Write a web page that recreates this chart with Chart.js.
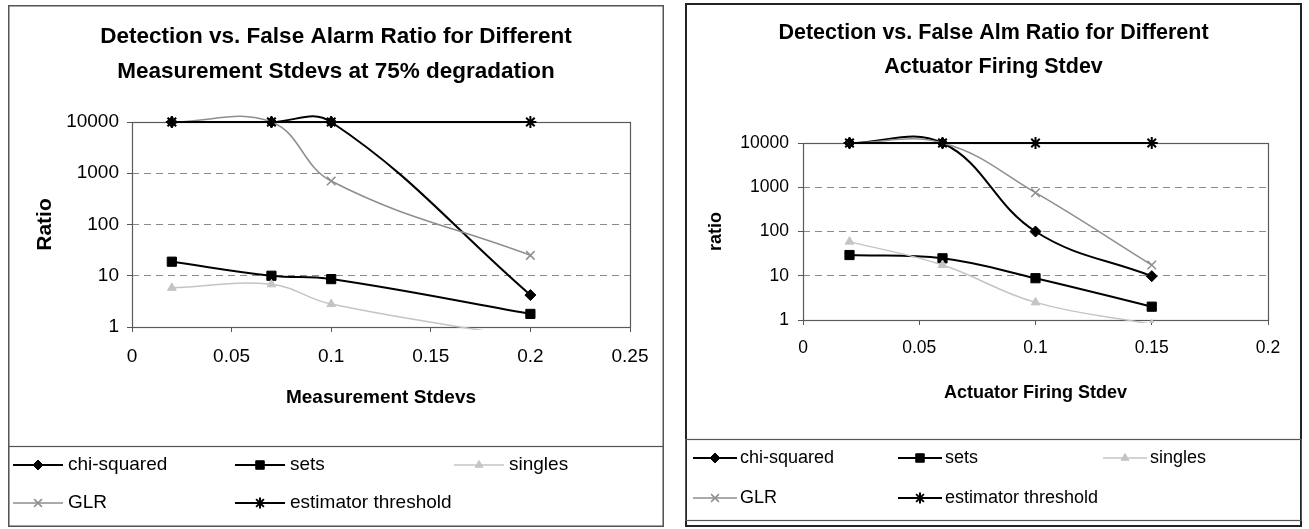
<!DOCTYPE html>
<html>
<head>
<meta charset="utf-8">
<script src="https://cdn.jsdelivr.net/npm/chart.js@4.4.1/dist/chart.umd.min.js"></script>
<style>
  html, body { margin: 0; padding: 0; background: #fff; width: 1309px; height: 529px; overflow: hidden; }
  .panel { position: absolute; }
  canvas { display: block; }
</style>
</head>
<body>
<div class="panel" style="left:8px; top:5px;"><canvas id="measChart" width="656" height="522"></canvas></div>
<div class="panel" style="left:685px; top:3px;"><canvas id="actChart" width="617" height="524"></canvas></div>
<script>
// Series shared by both panels
const seriesNames = ['chi-squared', 'sets', 'singles', 'GLR', 'estimator threshold'];
const ratioTicks = [1, 10, 100, 1000, 10000];

// Panel 1: measurement noise
const measStdevs     = [0.02, 0.07, 0.1, 0.2];
const measChiSquared = [10000, 10000, 10000, 4.2];
const measSets       = [18.8, 10, 8.6, 1.8];
const measSingles    = [5.8, 6.8, 2.8, 0.6];
const measGLR        = [10000, 10000, 706, 25];
const measEstimator  = [10000, 10000, 10000, 10000];
const measTicks      = [0, 0.05, 0.1, 0.15, 0.2, 0.25];

// Panel 2: actuator firing noise
const actStdevs     = [0.02, 0.06, 0.1, 0.15];
const actChiSquared = [10000, 10000, 100, 9.8];
const actSets       = [29.4, 24.8, 8.8, 2.0];
const actSingles    = [59, 17.5, 2.5, 0.8];
const actGLR        = [10000, 10000, 753, 17.5];
const actEstimator  = [10000, 10000, 10000, 10000];
const actTicks      = [0, 0.05, 0.1, 0.15, 0.2];

const FONT = "'Liberation Sans', Arial, Helvetica, sans-serif";

const seriesStyle = [
  { color: '#000000', point: 'rectRot',  radius: 5.5, lineWidth: 2,   pointBorder: 1 },
  { color: '#000000', point: 'rect',     radius: 6.5, lineWidth: 2,   pointBorder: 1 },
  { color: '#c4c4c4', point: 'triangle', radius: 5,   lineWidth: 1.5, pointBorder: 1 },
  { color: '#8e8e8e', point: 'crossRot', radius: 6,   lineWidth: 1.5, pointBorder: 1.5 },
  { color: '#000000', point: 'star',     radius: 6,   lineWidth: 2,   pointBorder: 2 }
];

function buildDatasets(xs, seriesValues) {
  return seriesValues.map((vals, i) => ({
    label: seriesNames[i],
    data: xs.map((x, j) => ({ x: x, y: vals[j] })),
    borderColor: seriesStyle[i].color,
    backgroundColor: seriesStyle[i].color,
    borderWidth: seriesStyle[i].lineWidth,
    pointStyle: seriesStyle[i].point,
    pointRadius: seriesStyle[i].radius,
    pointHoverRadius: seriesStyle[i].radius,
    pointBorderWidth: seriesStyle[i].pointBorder,
    pointBackgroundColor: seriesStyle[i].color,
    pointBorderColor: seriesStyle[i].color,
    tension: 0.4,
    capBezierPoints: false,
    fill: false,
    clip: { left: 12, top: 20, right: 12, bottom: 3 },
    order: seriesValues.length - i
  }));
}

// Frames, plot border and the boxed legend underneath each plot
const panelPlugin = {
  id: 'panel',
  beforeDraw(chart) {
    const ctx = chart.ctx;
    ctx.save();
    ctx.fillStyle = '#ffffff';
    ctx.fillRect(0, 0, chart.width, chart.height);
    ctx.restore();
  },
  beforeDatasetsDraw(chart) {
    const { ctx, chartArea: a } = chart;
    ctx.save();
    ctx.strokeStyle = '#5a5a5a';
    ctx.lineWidth = 1.2;
    ctx.strokeRect(Math.round(a.left) + 0.5, Math.round(a.top) + 0.5,
                   Math.round(a.right - a.left), Math.round(a.bottom - a.top));
    ctx.restore();
  },
  afterDraw(chart, args, o) {
    const ctx = chart.ctx;
    const W = chart.width, H = chart.height;
    ctx.save();
    // outer frame
    ctx.strokeStyle = o.frameColor;
    ctx.lineWidth = o.frameWidth;
    const fw = o.frameWidth / 2;
    ctx.strokeRect(fw, fw, W - o.frameWidth, H - o.frameWidth);
    // legend box
    ctx.lineWidth = 1.2;
    ctx.strokeStyle = '#555';
    ctx.strokeRect(0.5, o.legendTop + 0.5, W - 1, o.legendBottom - o.legendTop);
    // legend entries
    const ds = chart.data.datasets;
    ctx.font = o.legendSize + 'px ' + FONT;
    ctx.textBaseline = 'middle';
    ctx.textAlign = 'left';
    ds.forEach((d, i) => {
      const col = i < 3 ? i : i - 3;
      const row = i < 3 ? 0 : 1;
      const x = o.legendCols[col];
      const y = o.legendRows[row];
      ctx.strokeStyle = d.borderColor;
      ctx.lineWidth = d.borderWidth;
      ctx.beginPath();
      ctx.moveTo(x, y);
      ctx.lineTo(x + o.sampleLen, y);
      ctx.stroke();
      ctx.fillStyle = d.pointBackgroundColor;
      ctx.strokeStyle = d.pointBorderColor;
      ctx.lineWidth = d.pointBorderWidth;
      Chart.helpers.drawPoint(ctx, {
        pointStyle: d.pointStyle, radius: d.pointRadius - 0.5,
        borderWidth: d.pointBorderWidth, rotation: 0
      }, x + o.sampleLen / 2, y);
      ctx.fillStyle = '#000';
      ctx.fillText(d.label, x + o.textGap, y);
    });
    ctx.restore();
  }
};

function makeChart(id, xs, series, xTicks, titleLines, xTitle, yTitle, L) {
  return new Chart(document.getElementById(id), {
    type: 'line',
    data: { datasets: buildDatasets(xs, series) },
    plugins: [panelPlugin],
    options: {
      responsive: false,
      animation: false,
      devicePixelRatio: 1,
      events: [],
      layout: { padding: { left: L.side, right: L.side, top: 0, bottom: L.bottomPad } },
      plugins: {
        legend: { display: false },
        tooltip: { enabled: false },
        title: {
          display: true,
          text: titleLines,
          color: '#000',
          font: { family: FONT, size: L.titleSize, weight: 'bold', lineHeight: L.titleLH + 'px' },
          padding: { top: L.titlePadTop, bottom: L.titlePadBottom }
        },
        panel: L.panel
      },
      scales: {
        x: {
          type: 'linear',
          min: xTicks[0],
          max: xTicks[xTicks.length - 1],
          afterBuildTicks: s => { s.ticks = xTicks.map(v => ({ value: v })); },
          afterFit: s => { s.height = L.xAxisHeight; },
          ticks: {
            callback: v => String(v),
            color: '#000',
            font: { family: FONT, size: L.tickSize },
            padding: L.xTickPad,
            maxRotation: 0,
            autoSkip: false
          },
          grid: { drawOnChartArea: false, drawTicks: true, tickLength: 5, tickColor: '#555', color: '#555' },
          border: { display: false },
          title: {
            display: true, text: xTitle, color: '#000',
            font: { family: FONT, size: L.xTitleSize, weight: 'bold' },
            padding: { top: 0, bottom: L.xTitlePadBottom }
          }
        },
        y: {
          type: 'logarithmic',
          min: ratioTicks[0],
          max: ratioTicks[ratioTicks.length - 1],
          afterBuildTicks: s => { s.ticks = ratioTicks.map(v => ({ value: v })); },
          afterFit: s => { s.width = L.yAxisWidth; },
          ticks: {
            callback: v => String(v),
            color: '#000',
            font: { family: FONT, size: L.tickSize },
            padding: L.yTickPad
          },
          grid: {
            color: c => (c.tick && (c.tick.value === ratioTicks[0] || c.tick.value === ratioTicks[ratioTicks.length - 1])) ? 'rgba(0,0,0,0)' : '#8a8a8a',
            lineWidth: 1,
            tickColor: '#555',
            tickLength: 5
          },
          border: { display: false, dash: [7, 5] },
          title: {
            display: true, text: yTitle, color: '#000',
            font: { family: FONT, size: L.yTitleSize, weight: 'bold' },
            padding: { top: L.yTitlePadTop, bottom: 0 }
          }
        }
      }
    }
  });
}

makeChart('measChart', measStdevs,
  [measChiSquared, measSets, measSingles, measGLR, measEstimator], measTicks,
  ['Detection vs. False Alarm Ratio for Different', 'Measurement Stdevs at 75% degradation'],
  'Measurement Stdevs', 'Ratio',
  {
    side: 34, bottomPad: 100, yAxisWidth: 90, xAxisHeight: 100,
    titleSize: 22.5, titleLH: 35, titlePadTop: 14.5, titlePadBottom: 32.5,
    tickSize: 19, xTickPad: 13.6, yTickPad: 8,
    xTitleSize: 19, xTitlePadBottom: 17.6,
    yTitleSize: 21, yTitlePadTop: -9.6,
    panel: {
      frameColor: '#555', frameWidth: 1.5,
      legendTop: 441, legendBottom: 521,
      legendCols: [5, 227, 446], legendRows: [460, 498],
      sampleLen: 50, textGap: 55, legendSize: 19
    }
  });

makeChart('actChart', actStdevs,
  [actChiSquared, actSets, actSingles, actGLR, actEstimator], actTicks,
  ['Detection vs. False Alm Ratio for Different', 'Actuator Firing Stdev'],
  'Actuator Firing Stdev', 'ratio',
  {
    side: 34, bottomPad: 107, yAxisWidth: 84, xAxisHeight: 100,
    titleSize: 21.5, titleLH: 34, titlePadTop: 13, titlePadBottom: 59,
    tickSize: 17.5, xTickPad: 12.5, yTickPad: 9,
    xTitleSize: 18, xTitlePadBottom: 16.2,
    yTitleSize: 18, yTitlePadTop: -13.8,
    panel: {
      frameColor: '#222', frameWidth: 2,
      legendTop: 436, legendBottom: 517,
      legendCols: [8, 213, 418], legendRows: [455, 495],
      sampleLen: 44, textGap: 47, legendSize: 18
    }
  });
</script>
</body>
</html>
